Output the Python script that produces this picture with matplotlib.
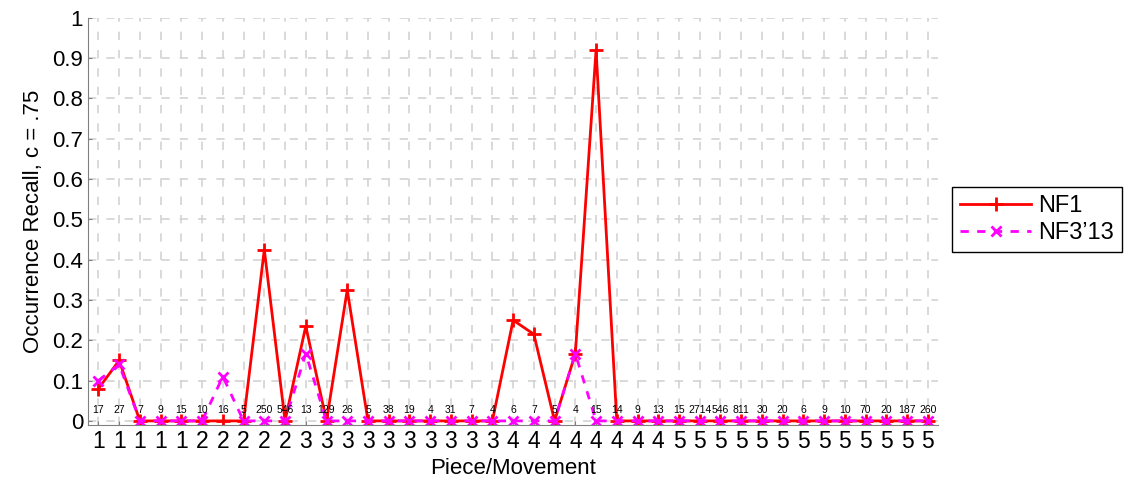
import numpy as np
import matplotlib
matplotlib.use('Agg')
import matplotlib.pyplot as plt

plt.rcParams['font.family'] = ['Liberation Sans', 'DejaVu Sans']

pieces = [1]*5 + [2]*5 + [3]*10 + [4]*8 + [5]*13
counts = [17, 27, 7, 9, 15, 10, 16, 5, 250, 546, 13, 129, 26, 5, 38, 19, 4, 31, 7, 4,
          6, 7, 5, 4, 15, 14, 9, 13,
          15, 2714, 546, 811, 30, 20, 6, 9, 10, 70, 20, 187, 260]
nf1 = [0.08, 0.15, 0, 0, 0, 0, 0, 0, 0.425, 0, 0.235, 0, 0.325, 0, 0, 0, 0, 0, 0, 0,
       0.25, 0.215, 0, 0.167, 0.92, 0, 0, 0,
       0, 0, 0, 0, 0, 0, 0, 0, 0, 0, 0, 0, 0]
nf3 = [0.10, 0.14, 0, 0, 0, 0, 0.11, 0, 0, 0, 0.167, 0, 0, 0, 0, 0, 0, 0, 0, 0,
       0, 0, 0, 0.167, 0, 0, 0, 0,
       0, 0, 0, 0, 0, 0, 0, 0, 0, 0, 0, 0, 0]

X = np.arange(1, len(pieces) + 1)

fig = plt.figure(figsize=(11.26, 4.97), dpi=100, facecolor='white')
ax = fig.add_axes([0.0782, 0.145, 0.755, 0.819])

ax.plot(X, nf1, color='red', lw=2, marker='+', ms=10, mew=2, label='NF1')
ax.plot(X, nf3, color='magenta', lw=2, ls=(0, (3, 3)), marker='x', ms=7, mew=2,
        label='NF3\u201913')

for i in range(len(X)):
    ax.text(X[i], 0.027, str(counts[i]), fontsize=7.5, ha='center', va='center')

ax.set_xlim(0.5, len(X) + 0.5)
ax.set_ylim(-0.01, 1.0)
ax.set_xticks(X)
ax.set_xticklabels([str(p) for p in pieces], fontsize=16.5)
ax.set_yticks(np.arange(0, 1.01, 0.1))
ax.set_yticklabels(['0'] + ['%.1f' % v for v in np.arange(0.1, 0.95, 0.1)] + ['1'], fontsize=16)
ax.tick_params(direction='in', length=3, color='#808080')
ax.grid(True, color='#d3d3d3', lw=1.2, ls=(0, (5, 6)))
ax.set_axisbelow(True)

for s in ['top', 'right']:
    ax.spines[s].set_visible(False)
for s in ['left', 'bottom']:
    ax.spines[s].set_color('#808080')

ax.set_xlabel('Piece/Movement', fontsize=16, labelpad=4)
ax.set_ylabel('Occurrence Recall, c = .75', fontsize=16, labelpad=6)

fig.legend(loc='center left', bbox_to_anchor=(952/1126, 1 - 219.5/497), fontsize=17,
           fancybox=False, edgecolor='black', framealpha=1, borderaxespad=0,
           handlelength=3.0, handletextpad=0.3, borderpad=0.35, labelspacing=0.2)

fig.savefig('out.png', dpi=100, facecolor='white')
